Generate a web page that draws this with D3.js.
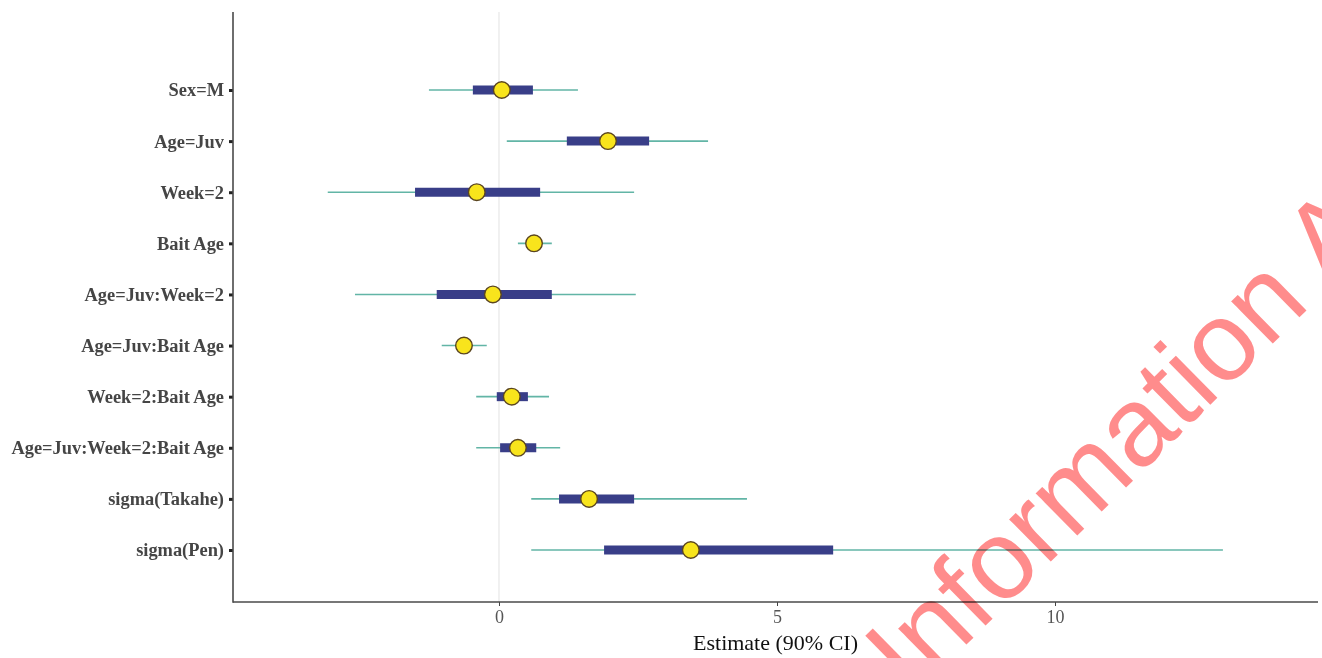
<!DOCTYPE html>
<html>
<head>
<meta charset="utf-8">
<script src="https://cdn.jsdelivr.net/npm/d3@7/dist/d3.min.js"></script>
<style>
  html, body { margin: 0; padding: 0; background: #fff; }
  svg { display: block; }
</style>
</head>
<body>
<svg id="chart" width="1322" height="658"></svg>
<script>
// ---- data ----
const terms = ["Sex=M", "Age=Juv", "Week=2", "Bait Age", "Age=Juv:Week=2",
  "Age=Juv:Bait Age", "Week=2:Bait Age", "Age=Juv:Week=2:Bait Age",
  "sigma(Takahe)", "sigma(Pen)"];
const estimate = [0.05, 1.96, -0.40, 0.63, -0.11, -0.63, 0.23, 0.34, 1.62, 3.45];
const ci90Low  = [-1.26, 0.14, -3.08, 0.34, -2.59, -1.03, -0.41, -0.41, 0.58, 0.58];
const ci90High = [1.42, 3.76, 2.43, 0.95, 2.46, -0.22, 0.90, 1.10, 4.46, 13.02];
const ci50Low  = [-0.47, 1.22, -1.51, 0.50, -1.12, -0.76, -0.04, 0.02, 1.08, 1.89];
const ci50High = [0.61, 2.70, 0.74, 0.76, 0.95, -0.50, 0.52, 0.67, 2.43, 6.01];
const xTicks = [0, 5, 10];
const xTitle = "Estimate (90% CI)";
const watermark = "Information A";

(function () {
const rows = terms.map((t, i) => ({
  term: t, est: estimate[i], lo: ci90Low[i], hi: ci90High[i],
  lo50: ci50Low[i], hi50: ci50High[i]
}));

const svg = d3.select("#chart");
const pL = 233, pR = 1318, pT = 12, pB = 602;

const x = d3.scaleLinear().domain([-4.784, 14.73]).range([pL, pR]);
const y = d3.scalePoint().domain(terms).range([90, 550]).padding(0);

// zero reference line
svg.append("line")
  .attr("x1", x(0)).attr("x2", x(0))
  .attr("y1", pT).attr("y2", pB)
  .attr("stroke", "#e2e2e2").attr("stroke-width", 1);

// 90% intervals
svg.append("g").selectAll("line").data(rows).join("line")
  .attr("x1", d => x(d.lo)).attr("x2", d => x(d.hi))
  .attr("y1", d => y(d.term)).attr("y2", d => y(d.term))
  .attr("stroke", "#62b5a6").attr("stroke-width", 1.6);

// 50% intervals
svg.append("g").selectAll("line").data(rows).join("line")
  .attr("x1", d => x(d.lo50)).attr("x2", d => x(d.hi50))
  .attr("y1", d => y(d.term)).attr("y2", d => y(d.term))
  .attr("stroke", "#393e88").attr("stroke-width", 9);

// points
svg.append("g").selectAll("circle").data(rows).join("circle")
  .attr("cx", d => x(d.est)).attr("cy", d => y(d.term))
  .attr("r", 8.3)
  .attr("fill", "#f8e41c").attr("stroke", "#5a4520").attr("stroke-width", 1.4);

// axes
const yAxis = svg.append("g").attr("transform", `translate(${pL},0)`)
  .call(d3.axisLeft(y).tickSize(4).tickPadding(5));
yAxis.select(".domain").remove();
yAxis.selectAll(".tick line").attr("stroke", "#222").attr("stroke-width", 3);
yAxis.selectAll(".tick text")
  .attr("font-family", "'Liberation Serif', 'Times New Roman', serif")
  .attr("font-weight", "bold").attr("font-size", 18.4).attr("fill", "#454545");

const xAxis = svg.append("g").attr("transform", `translate(0,${pB})`)
  .call(d3.axisBottom(x).tickValues(xTicks).tickFormat(d3.format("d")).tickSize(4).tickPadding(4));
xAxis.select(".domain").remove();
xAxis.selectAll(".tick line").attr("stroke", "#444").attr("stroke-width", 1);
xAxis.selectAll(".tick text")
  .attr("font-family", "'Liberation Serif', 'Times New Roman', serif")
  .attr("font-size", 18).attr("fill", "#555");

// axis lines
svg.append("line").attr("x1", pL).attr("x2", pL).attr("y1", pT).attr("y2", pB + 0.75)
  .attr("stroke", "#4a4a4a").attr("stroke-width", 1.6);
svg.append("line").attr("x1", pL).attr("x2", pR).attr("y1", pB).attr("y2", pB)
  .attr("stroke", "#4a4a4a").attr("stroke-width", 1.6);

// x title
svg.append("text")
  .attr("x", (pL + pR) / 2).attr("y", 650)
  .attr("text-anchor", "middle")
  .attr("font-family", "'Liberation Serif', 'Times New Roman', serif")
  .attr("font-size", 22).attr("fill", "#111")
  .text(xTitle);

// watermark
svg.append("text")
  .attr("transform", "translate(912,698) rotate(-44.5)")
  .attr("font-family", "'Liberation Sans', Arial, sans-serif")
  .attr("font-size", 112)
  .attr("fill", "rgb(255,128,128)")
  .style("mix-blend-mode", "multiply")
  .attr("opacity", 0.9)
  .text(watermark);
})();
</script>
</body>
</html>
